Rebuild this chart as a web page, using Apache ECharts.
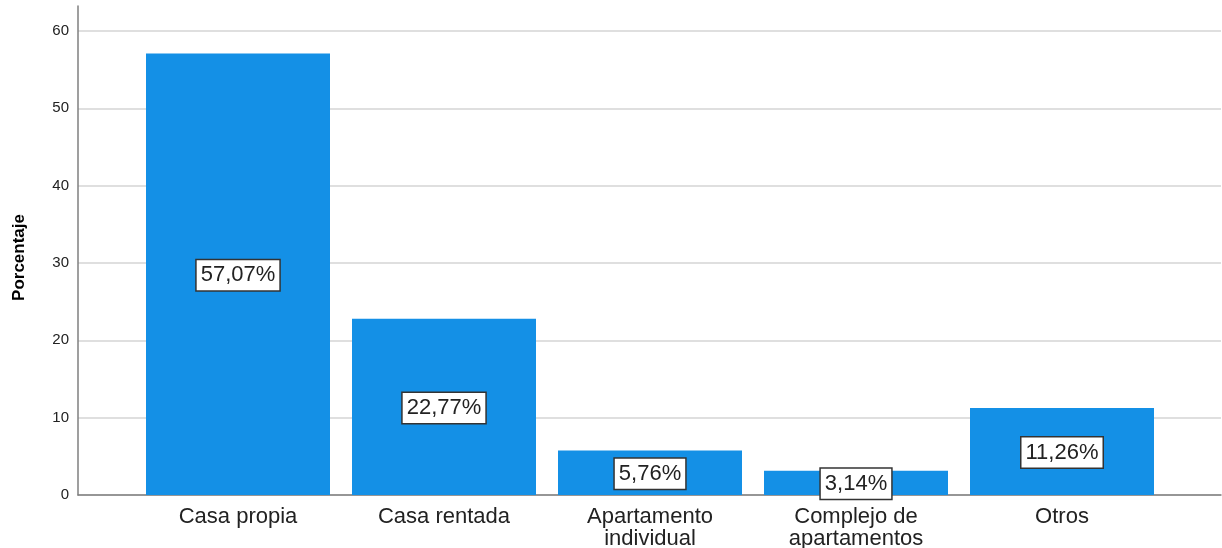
<!DOCTYPE html>
<html>
<head>
<meta charset="utf-8">
<script src="https://cdn.jsdelivr.net/npm/echarts@6/dist/echarts.min.js"></script>
<style>html,body{margin:0;padding:0;background:#fff}#c{width:1222px;height:548px}</style>
</head>
<body>
<div id="c"></div>
<script>
var categories = ['Casa propia', 'Casa rentada', 'Apartamento\nindividual', 'Complejo de\napartamentos', 'Otros'];
var values = [57.07, 22.77, 5.76, 3.14, 11.26];
var yTicks = [0, 10, 20, 30, 40, 50, 60];
var yName = 'Porcentaje';

var YMAX = 63.2;
var FONT = 'Liberation Sans, Arial, sans-serif';
var chart = echarts.init(document.getElementById('c'));
chart.setOption({
  animation: false,
  grid: [
    {left: 78, right: 1, top: 6, bottom: 53, outerBoundsMode: 'none', containLabel: false},
    {left: 135, width: 1030, top: 6, bottom: 53, outerBoundsMode: 'none', containLabel: false},
    {left: 78, right: 1, top: 31, bottom: 53, outerBoundsMode: 'none', containLabel: false}
  ],
  xAxis: [
    {gridIndex: 0, type: 'value', min: 0, max: 1, axisLine: {show: true, lineStyle: {color: '#7f7f7f', width: 1.5}},
     axisTick: {show: false}, axisLabel: {show: false}, splitLine: {show: false}},
    {gridIndex: 1, type: 'category', data: categories, axisLine: {show: false}, axisTick: {show: false},
     axisLabel: {color: '#222', fontSize: 22, fontFamily: FONT, margin: 11, lineHeight: 22}},
    {gridIndex: 2, type: 'value', min: 0, max: 1, show: false}
  ],
  yAxis: [
    {gridIndex: 0, type: 'value', min: 0, max: YMAX, interval: 10,
     name: yName, nameLocation: 'middle', nameGap: 50, nameRotate: 90,
     nameTextStyle: {color: '#000', fontSize: 17, fontWeight: 'bold', fontFamily: FONT, padding: [0, 14, 0, 0]},
     axisLine: {show: true, lineStyle: {color: '#7f7f7f', width: 1.5}}, axisTick: {show: false},
     axisLabel: {color: '#222', fontSize: 15, fontFamily: FONT, margin: 9,
       formatter: function (v) { return yTicks.indexOf(v) >= 0 ? String(v) : ''; }},
     splitLine: {show: false}},
    {gridIndex: 1, type: 'value', min: 0, max: YMAX, show: false, splitLine: {show: false}},
    {gridIndex: 2, type: 'value', min: 0, max: 60, interval: 10, axisLine: {show: false}, axisTick: {show: false},
     axisLabel: {show: false}, splitLine: {show: true, lineStyle: {color: '#d4d4d4', width: 1.5}}}
  ],
  series: [{
    type: 'bar', xAxisIndex: 1, yAxisIndex: 1, data: values, barWidth: 184, z: 3,
    itemStyle: {color: '#1490e6'},
    label: {show: true, position: 'inside', offset: [0, 1], formatter: function (p) { return p.value.toFixed(2).replace('.', ',') + '%'; },
      color: '#222', fontSize: 22, fontFamily: FONT,
      backgroundColor: '#fff', borderColor: '#333', borderWidth: 1.5, padding: [5, 4, 3, 4]}
  }]
});
</script>
</body>
</html>
